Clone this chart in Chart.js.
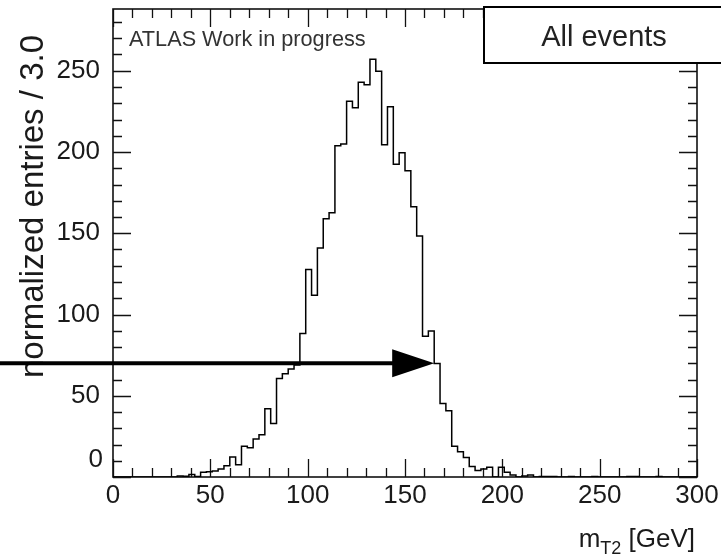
<!DOCTYPE html>
<html>
<head>
<meta charset="utf-8">
<script src="https://cdn.jsdelivr.net/npm/chart.js@4.4.1/dist/chart.umd.min.js"></script>
<style>
  html, body { margin: 0; padding: 0; background: #ffffff; }
  #wrap { width: 721px; height: 557px; position: relative; }
</style>
</head>
<body>
<div id="wrap"><canvas id="c" width="721" height="557"></canvas></div>
<script>
// Histogram definition: 100 bins of 3 GeV from 0 to 300 GeV
const binWidth = 3;
const xRange = [0, 300];
const yRange = [0, 288];

// normalized entries per bin (bin 0 = 0-3 GeV, ..., bin 99 = 297-300 GeV)
const entries = [
  0, 0, 0, 0, 0, 0, 0, 0, 0, 0,
  0, 0.6, 0.5, 1.5, 0.3, 3, 3.3, 3.7, 5, 7,
  12.3, 7.6, 19, 18, 23.4, 26, 42, 33, 60.6, 63.6,
  66.5, 69, 88.3, 127.7, 111.9, 141, 159, 162.6, 203.8, 205,
  231.3, 227.2, 243, 241.4, 257.1, 249.7, 204.5, 227.8, 192.5, 199.5,
  188.4, 166.3, 148.3, 86.6, 89.9, 69.8, 45.2, 40.8, 19, 15.5,
  12, 6.5, 4, 5, 6, 0, 6, 3, 1.2, 0,
  0.6, 1.2, 0, 0.3, 0.3, 0.3, 0, 0, 0.3, 0,
  0, 0, 0.3, 0, 0, 0, 0, 0, 0.3, 0.3,
  0, 0, 0, 0.3, 0, 0, 0, 0, 0, 0
];

// axis ticks
const xMajorTicks = [0, 50, 100, 150, 200, 250, 300];
const yMajorTicks = [0, 50, 100, 150, 200, 250];
const minorStep = 10;

// cut marker: arrow pointing at m_T2 = 165 GeV at a level of 70
const cutValue = 165;
const cutLevel = 70;

// texts
const yTitle = 'normalized entries / 3.0';
const xTitleMain = 'm';
const xTitleSub = 'T2';
const xTitleUnit = ' [GeV]';
const labelText = 'ATLAS Work in progress';
const legendText = 'All events';

// step outline: each bin value holds from its lower edge to the next edge
const points = entries.map((v, i) => ({ x: xRange[0] + i * binWidth, y: v }));
points.push({ x: xRange[1], y: entries[entries.length - 1] });

const FONT = '"Liberation Sans", Arial, Helvetica, sans-serif';
const TEXT = '#1a1a1a';

const frameTicks = {
  id: 'frameTicks',
  beforeDatasetsDraw(chart) {
    const { ctx, chartArea: a, scales: { x, y } } = chart;
    ctx.save();
    ctx.strokeStyle = '#111';
    ctx.lineWidth = 1.3;
    const majorLen = 18, minorLen = 9;
    // x ticks on bottom and top edges
    for (let v = xRange[0]; v <= xRange[1]; v += minorStep) {
      const px = Math.round(x.getPixelForValue(v)) + 0.5;
      const len = xMajorTicks.includes(v) ? majorLen : minorLen;
      ctx.beginPath();
      ctx.moveTo(px, a.bottom); ctx.lineTo(px, a.bottom - len);
      ctx.moveTo(px, a.top); ctx.lineTo(px, a.top + len);
      ctx.stroke();
    }
    // y ticks on left and right edges
    for (let v = yRange[0]; v <= yRange[1]; v += minorStep) {
      const py = Math.round(y.getPixelForValue(v)) + 0.5;
      const len = yMajorTicks.includes(v) ? majorLen : minorLen;
      ctx.beginPath();
      ctx.moveTo(a.left, py); ctx.lineTo(a.left + len, py);
      ctx.moveTo(a.right, py); ctx.lineTo(a.right - len, py);
      ctx.stroke();
    }
    // frame
    ctx.lineWidth = 1.6;
    ctx.strokeRect(a.left, a.top, a.right - a.left, a.bottom - a.top);
    ctx.restore();
  },
  afterDraw(chart) {
    const { ctx, chartArea: a, scales: { x, y } } = chart;
    ctx.save();
    ctx.fillStyle = TEXT;

    // y-axis zero label, raised above the corner as in ROOT
    ctx.font = '26px ' + FONT;
    ctx.textAlign = 'right';
    ctx.textBaseline = 'middle';
    ctx.fillText('0', a.left - 10, y.getPixelForValue(0) - 17);

    // y-axis title, rotated, aligned to the top of the axis
    ctx.save();
    ctx.translate(43, 35);
    ctx.rotate(-Math.PI / 2);
    ctx.font = '33px ' + FONT;
    ctx.textAlign = 'right';
    ctx.textBaseline = 'alphabetic';
    ctx.fillText(yTitle, 0, 0);
    ctx.restore();

    // x-axis title with subscript
    ctx.textBaseline = 'alphabetic';
    ctx.textAlign = 'left';
    const mainFont = '26px ' + FONT, subFont = '18px ' + FONT;
    ctx.font = mainFont; const wM = ctx.measureText(xTitleMain).width;
    const wU = ctx.measureText(xTitleUnit).width;
    ctx.font = subFont; const wS = ctx.measureText(xTitleSub).width;
    const base = 547;
    let tx = a.right - 2 - (wM + wS + wU);
    ctx.font = mainFont; ctx.fillText(xTitleMain, tx, base); tx += wM;
    ctx.font = subFont; ctx.fillText(xTitleSub, tx, base + 7); tx += wS;
    ctx.font = mainFont; ctx.fillText(xTitleUnit, tx, base);

    // experiment label
    ctx.font = '21.7px ' + FONT;
    ctx.fillStyle = '#333';
    ctx.textBaseline = 'middle';
    ctx.fillText(labelText, 129, 40);

    // legend box
    ctx.fillStyle = '#ffffff';
    ctx.fillRect(484, 7, 260, 56);
    ctx.strokeStyle = '#000';
    ctx.lineWidth = 2;
    ctx.strokeRect(484, 7, 260, 56);
    ctx.fillStyle = '#222';
    ctx.font = '29px ' + FONT;
    ctx.textAlign = 'center';
    ctx.fillText(legendText, 604, 38);

    // cut arrow
    const tipX = x.getPixelForValue(cutValue);
    const lvlY = y.getPixelForValue(cutLevel);
    const headLen = 42, headHalf = 14;
    ctx.strokeStyle = '#000';
    ctx.lineWidth = 4;
    ctx.beginPath();
    ctx.moveTo(0, lvlY);
    ctx.lineTo(tipX - headLen + 2, lvlY);
    ctx.stroke();
    ctx.fillStyle = '#000';
    ctx.beginPath();
    ctx.moveTo(tipX, lvlY);
    ctx.lineTo(tipX - headLen, lvlY - headHalf);
    ctx.lineTo(tipX - headLen, lvlY + headHalf);
    ctx.closePath();
    ctx.fill();
    ctx.restore();
  }
};

new Chart(document.getElementById('c'), {
  type: 'line',
  data: {
    datasets: [{
      data: points,
      stepped: true,
      borderColor: '#000',
      borderWidth: 1.5,
      pointRadius: 0,
      fill: false,
      tension: 0
    }]
  },
  options: {
    responsive: false,
    devicePixelRatio: 1,
    animation: false,
    layout: { padding: { top: 9, right: 24, left: 0, bottom: 0 } },
    plugins: { legend: { display: false }, tooltip: { enabled: false } },
    scales: {
      x: {
        type: 'linear',
        min: xRange[0], max: xRange[1],
        grid: { display: false, drawTicks: false },
        border: { display: false },
        afterBuildTicks: (s) => { s.ticks = xMajorTicks.map(v => ({ value: v })); },
        afterFit: (s) => { s.height = 80; s.paddingLeft = 0; s.paddingRight = 0; },
        ticks: {
          autoSkip: false, maxRotation: 0, padding: 3,
          color: TEXT, font: { family: FONT, size: 26 },
          callback: (v) => String(v)
        }
      },
      y: {
        type: 'linear',
        min: yRange[0], max: yRange[1],
        grid: { display: false, drawTicks: false },
        border: { display: false },
        afterBuildTicks: (s) => { s.ticks = yMajorTicks.map(v => ({ value: v })); },
        afterFit: (s) => { s.width = 113; s.paddingTop = 0; s.paddingBottom = 0; },
        ticks: {
          autoSkip: false, padding: 13,
          color: TEXT, font: { family: FONT, size: 26 },
          callback: (v) => (v === 0 ? '' : String(v))
        }
      }
    }
  },
  plugins: [frameTicks]
});
</script>
</body>
</html>
